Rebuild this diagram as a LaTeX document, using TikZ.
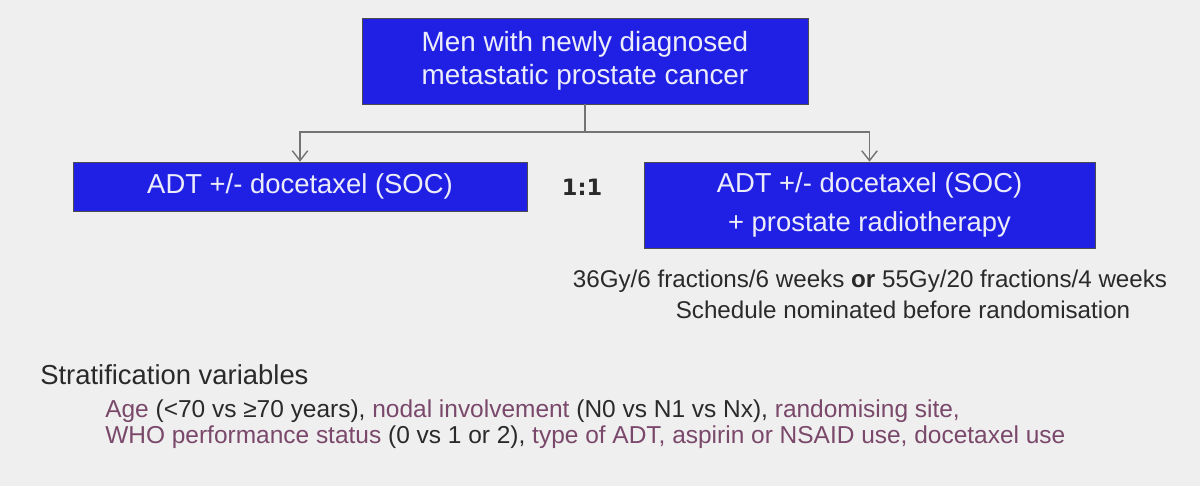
\documentclass[tikz,border=0pt]{standalone}
\usepackage{fontspec}
\setmainfont{Liberation Sans}
\newfontfamily\ratiofont{DejaVu Sans}
\usepackage{tikz}
\usetikzlibrary{arrows.meta}
\definecolor{slidebg}{RGB}{239,239,239}
\definecolor{boxblue}{RGB}{32,32,228}
\definecolor{boxtext}{RGB}{236,236,250}
\definecolor{stratcol}{RGB}{122,72,106}
\definecolor{darktext}{RGB}{42,42,42}
\tikzset{>={Straight Barb[length=7pt,width=11pt]}}
\tikzset{
  armbox/.style={draw=black!70, fill=boxblue, text=boxtext, align=center,
    inner sep=0pt, font=\fontsize{19.5}{27.7}\selectfont},
  link/.style={draw=black!55, line width=1pt},
  plain/.style={inner sep=0pt, text=darktext, font=\fontsize{17.2}{22}\selectfont},
}
\newcommand{\varname}[1]{\textcolor{stratcol}{#1}}

\begin{document}
\begin{tikzpicture}[x=0.025cm, y=-0.025cm]
  \fill[slidebg] (0,0) rectangle (1200,486);

  % boxes
  \node[armbox, minimum width=11.15cm, minimum height=2.15cm,
    font=\fontsize{19.8}{23.5}\selectfont] (men) at (585,61)
    {Men with newly diagnosed\\metastatic prostate cancer};
  \node[armbox, minimum width=11.35cm, minimum height=1.225cm] (soc) at (300,186.5)
    {ADT +/- docetaxel (SOC)};
  \node[armbox, minimum width=11.275cm, minimum height=2.15cm] (socrt) at (869.5,205)
    {ADT +/- docetaxel (SOC)\\+ prostate radiotherapy};

  % randomisation split
  \coordinate (split) at (585,132);
  \draw[link] (men.south) -- (split);
  \draw[link,->] (split) -| (soc.north);
  \draw[link,->] (split) -| (socrt.north);

  \node[plain, font=\ratiofont\bfseries\fontsize{16}{18}\selectfont] (ratio) at (582,187) {1:1};

  % radiotherapy schedule
  \node[plain, anchor=base] (dose) at (870,287)
    {36Gy/6 fractions/6 weeks \textbf{or} 55Gy/20 fractions/4 weeks};
  \node[plain, anchor=base] (sched) at (903,318)
    {Schedule nominated before randomisation};

  % stratification
  \node[plain, anchor=base west, font=\fontsize{19.5}{22}\selectfont] (strat) at (40,384)
    {Stratification variables};
  \node[plain, anchor=base west, font=\fontsize{17.4}{22}\selectfont] (vars1) at (105,417)
    {\varname{Age} (<70 vs ≥70 years), \varname{nodal involvement} (N0 vs N1 vs Nx), \varname{randomising site,}};
  \node[plain, anchor=base west, font=\fontsize{17.4}{22}\selectfont] (vars2) at (105,443)
    {\varname{WHO performance status} (0 vs 1 or 2), \varname{type of ADT, aspirin or NSAID use, docetaxel use}};
\end{tikzpicture}
\end{document}
